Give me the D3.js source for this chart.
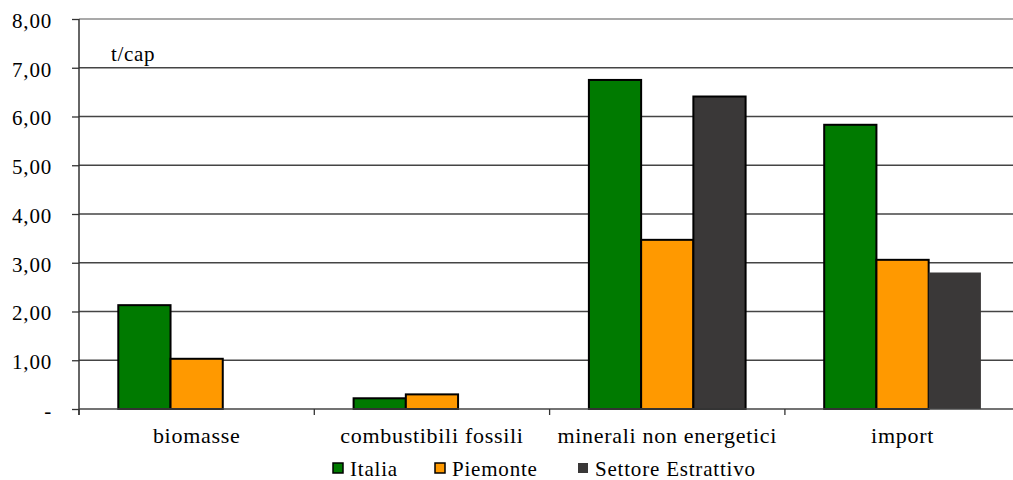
<!DOCTYPE html>
<html><head><meta charset="utf-8">
<script src="https://cdn.jsdelivr.net/npm/d3@7"></script>
<style>body{margin:0;background:#fff}svg{display:block}svg text{font-family:'Liberation Serif','Times New Roman','DejaVu Serif',serif !important;fill:#000}</style>
</head><body><svg id="c" width="1013" height="480"></svg>
<script>
const categories = ["biomasse", "combustibili fossili", "minerali non energetici", "import"];
const seriesNames = ["Italia", "Piemonte", "Settore Estrattivo"];
const italia = [2.13, 0.22, 6.75, 5.83];
const piemonte = [1.03, 0.30, 3.47, 3.06];
const settore = [null, null, 6.41, 2.80];
const yTicks = [0, 1, 2, 3, 4, 5, 6, 7, 8];
const unitLabel = "t/cap";
const colors = ["#007a00", "#ff9900", "#3a3838"];

const series = [italia, piemonte, settore];
const svg = d3.select("#c");
const m = {left: 79, top: 19, bottom: 409};
const x = d3.scaleBand().domain(categories).range([79, 79 + 4 * 235.3]).paddingInner(0).paddingOuter(0);
const y = d3.scaleLinear().domain([0, 8]).range([m.bottom, m.top]);
const barW = x.bandwidth() * 0.222;

// gridlines
svg.append("g").selectAll("line").data(yTicks.filter(d => d > 0)).join("line")
  .attr("x1", 79).attr("x2", 1013).attr("y1", d => y(d)).attr("y2", d => y(d))
  .attr("stroke", d => d === 8 ? "#8c8c8c" : "#444").attr("stroke-width", 1.3);

// bars
const fmt = v => v === 0 ? "-" : d3.format(".2f")(v).replace(".", ",");
series.forEach((vals, si) => {
  svg.append("g").selectAll("rect").data(categories.map((c, i) => ({c, v: vals[i], i})).filter(d => d.v != null)).join("rect")
    .attr("x", d => x(d.c) + x.bandwidth() / 2 - 1.5 * barW + si * barW)
    .attr("y", d => y(d.v))
    .attr("width", barW)
    .attr("height", d => y(0) - y(d.v))
    .attr("fill", colors[si])
    .attr("stroke", d => (si === 2 && d.i === 3) ? "none" : "#000")
    .attr("stroke-width", 2);
});

// y axis
const yAxis = d3.axisLeft(y).tickValues(yTicks).tickFormat(fmt).tickSize(7).tickPadding(20);
const ga = svg.append("g").attr("transform", "translate(79,0)").call(yAxis);
ga.attr("font-family", null).attr("font-size", null);
ga.select(".domain").attr("stroke", "#333").attr("stroke-width", 1.5).attr("d", `M-0,${m.top}V${m.bottom + 6}`);
ga.selectAll(".tick line").attr("stroke", "#333").attr("stroke-width", 1.3);
ga.selectAll(".tick text").style("font-size", "21px").style("letter-spacing", "0.8px").attr("fill", "#000").attr("dy", "0.4em");

// x axis
const xAxis = d3.axisBottom(x).tickSize(0).tickPadding(18);
const gx = svg.append("g").attr("transform", `translate(0,${m.bottom})`).call(xAxis);
gx.attr("font-family", null).attr("font-size", null);
gx.select(".domain").attr("stroke", "#444").attr("stroke-width", 1.5).attr("d", `M79,0H1013`);
gx.selectAll(".tick text").style("font-size", "22px").style("letter-spacing", "0.7px").attr("fill", "#000");
gx.append("g").selectAll("line").data(categories.concat(["_end"])).join("line")
  .attr("x1", (d, i) => 79 + i * x.step()).attr("x2", (d, i) => 79 + i * x.step())
  .attr("y1", 0).attr("y2", 6).attr("stroke", "#333").attr("stroke-width", 1.3);

// unit label
svg.append("text").attr("x", 111).attr("y", 61).style("font-size", "21px").style("letter-spacing", "0.7px").text(unitLabel);

// legend
const legX = [333, 435, 578];
const lg = svg.append("g");
seriesNames.forEach((n, i) => {
  lg.append("rect").attr("x", legX[i]).attr("y", 463).attr("width", 10).attr("height", 10)
    .attr("fill", colors[i]).attr("stroke", i === 2 ? "none" : "#000").attr("stroke-width", 1.5);
  lg.append("text").attr("x", legX[i] + 17).attr("y", 476).style("font-size", "21px").style("letter-spacing", "0.8px").text(n);
});
</script></body></html>
